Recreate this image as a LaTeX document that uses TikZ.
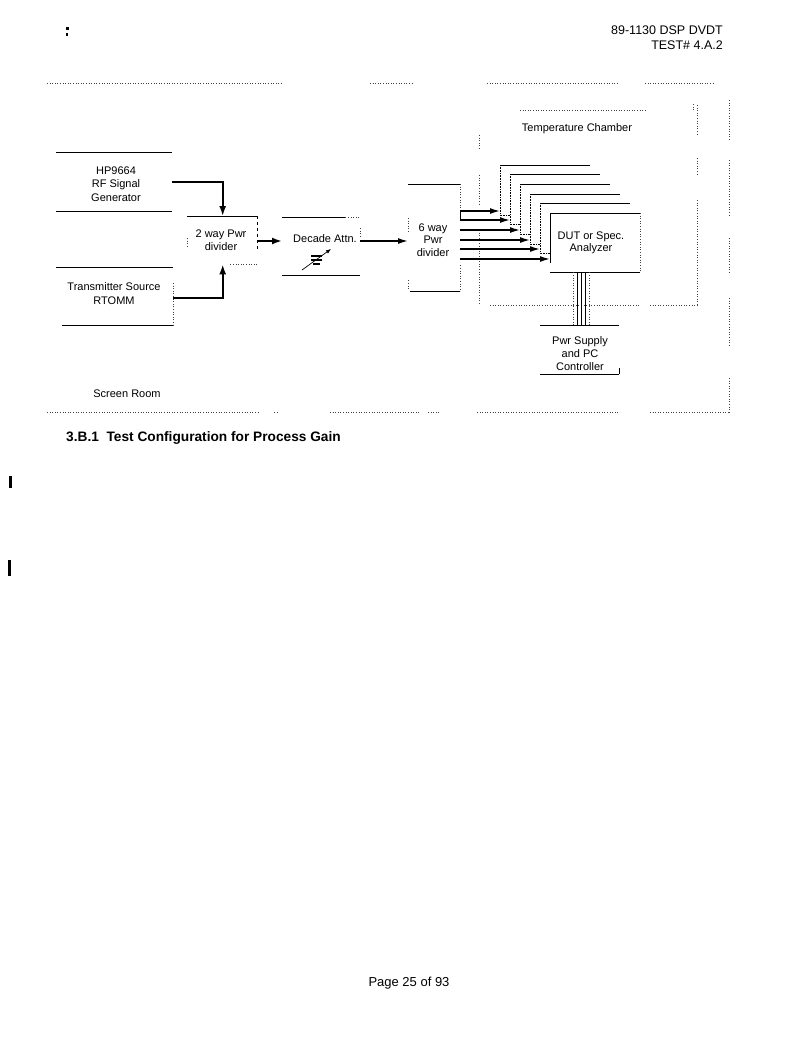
\documentclass[tikz,border=0pt]{standalone}
\usepackage{fontspec}
\setmainfont{Liberation Sans}
\usetikzlibrary{arrows.meta}
\begin{document}
\begin{tikzpicture}[x=1pt,y=-1pt,
  lbl/.style={font=\fontsize{11}{13.5}\selectfont, align=center, inner sep=0pt},
  boxnode/.style={draw=none, inner sep=0pt, anchor=north west},
  edge/.style={line width=0.8pt},
  dots/.style={line width=0.6pt, dotted, black!75},
  conn/.style={line width=1.8pt, -{Latex[length=10pt,width=7pt]}},
  sconn/.style={line width=1.5pt, -{Latex[length=10pt,width=6pt]}}]
\useasboundingbox (0,0) rectangle (808,1047);
\fill[white] (0,0) rectangle (808,1047);

% header / footer
\node[font=\fontsize{12.5}{15}\selectfont, anchor=east, inner sep=0pt] (hdr1) at (723,30) {89-1130 DSP DVDT};
\node[font=\fontsize{12.5}{15}\selectfont, anchor=east, inner sep=0pt] (hdr2) at (723,45) {TEST\# 4.A.2};
\node[font=\fontsize{13}{15}\selectfont, inner sep=0pt] (footer) at (409,983) {Page 25 of 93};
\node[font=\bfseries\fontsize{13.7}{16}\selectfont, anchor=west, inner sep=0pt] (heading) at (66,438) {3.B.1\ \ Test Configuration for Process Gain};

% scan marks
\fill (66,27) rectangle (68.5,30);
\fill (66,33) rectangle (67.5,36);
\fill (9,476) rectangle (11.5,488);
\fill (8,560) rectangle (11,576);

% screen room
\draw[dots] (47,83) -- (283,83) (370,83) -- (413,83) (487,83) -- (618,83) (645,83) -- (715,83);
\draw[dots] (729,100) -- (729,140) (729,160) -- (729,215) (729,238) -- (729,272) (729,298) -- (729,345) (729,378) -- (729,412);
\draw[dots] (47,412) -- (258,412) (274,412) -- (278,412) (330,412) -- (420,412) (428,412) -- (440,412) (477,412) -- (620,412) (650,412) -- (729,412);
\node[lbl] (screen) at (127,394) {Screen Room};

% temperature chamber
\draw[dots] (520,110) -- (645,110) (693,104) -- (693,110);
\draw[dots] (697,105) -- (697,135) (697,158) -- (697,175) (697,200) -- (697,305);
\draw[dots] (490,305) -- (640,305) (650,305) -- (697,305);
\draw[dots] (479,135) -- (479,150) (479,175) -- (479,205) (479,230) -- (479,303);
\node[lbl] (tempch) at (577,129) {Temperature Chamber};

% box nodes (invisible frames)
\node[boxnode, minimum width=116pt, minimum height=59pt] (hp) at (56,152) {};
\node[boxnode, minimum width=117pt, minimum height=58pt] (tx) at (56,267) {};
\node[boxnode, minimum width=71pt, minimum height=48pt] (two) at (187,216) {};
\node[boxnode, minimum width=78pt, minimum height=58pt] (dec) at (282,217) {};
\node[boxnode, minimum width=52pt, minimum height=107pt] (six) at (408,184) {};
\node[boxnode, minimum width=90pt, minimum height=59pt] (b1) at (500,165) {};
\node[boxnode, minimum width=90pt, minimum height=59pt] (b2) at (510,174) {};
\node[boxnode, minimum width=90pt, minimum height=59pt] (b3) at (520,184) {};
\node[boxnode, minimum width=90pt, minimum height=59pt] (b4) at (530,194) {};
\node[boxnode, minimum width=90pt, minimum height=59pt] (b5) at (540,203) {};
\node[boxnode, minimum width=90pt, minimum height=59pt] (dut) at (550,213) {};
\node[boxnode, minimum width=79pt, minimum height=49pt] (pwr) at (540,325) {};

% texts
\node[lbl] (hpT) at (116,184) {HP9664\\RF Signal\\Generator};
\node[lbl] (txT) at (114,293.5) {Transmitter Source\\RTOMM};
\node[lbl] (twoT) at (221,240) {2 way Pwr\\divider};
\node[lbl] (decT) at (325,239) {Decade Attn.};
\node[lbl, font=\fontsize{11}{12.5}\selectfont] (sixT) at (433,240) {6 way\\Pwr\\divider};
\node[lbl, font=\fontsize{11}{12.5}\selectfont] (dutT) at (591,243) {DUT or Spec.\\Analyzer};
\node[lbl, font=\fontsize{11}{13}\selectfont] (pwrT) at (580,353.5) {Pwr Supply\\and PC\\Controller};

% visible box edges (yshift < 0 moves down)
\draw[edge] (hp.north west) -- (hp.north east) (hp.south west) -- (hp.south east);
\draw[edge] (tx.north west) -- (tx.north east) ([xshift=6pt]tx.south west) -- (tx.south east);
\draw[dots] ([yshift=-16pt]tx.north east) -- (tx.south east);
\draw[edge] (two.north west) -- (two.north east);
\draw[edge, dashed, line width=0.7pt] ([xshift=-1pt]two.north east) -- ([xshift=-1pt,yshift=-34pt]two.north east);
\draw[dots] ([xshift=-28pt]two.south east) -- (two.south east) ([yshift=-22pt]two.north west) -- ([yshift=-32pt]two.north west);
\draw[edge] (dec.north west) -- ([xshift=-15pt]dec.north east) (dec.south west) -- (dec.south east);
\draw[dots] ([xshift=-15pt]dec.north east) -- (dec.north east) ([yshift=-11pt]dec.north east) -- ([yshift=-21pt]dec.north east);
\draw[edge] (six.north west) -- (six.north east) ([xshift=2pt]six.south west) -- (six.south east);
\draw[dots] (six.north east) -- ([yshift=-26pt]six.north east) ([yshift=26pt]six.south east) -- (six.south east);
\draw[dots] ([yshift=-34pt]six.north west) -- ([yshift=-48pt]six.north west) ([yshift=11pt]six.south west) -- ([yshift=1pt]six.south west);
\draw[edge] ([yshift=-27pt]six.north east) -- ([yshift=-36pt]six.north east);

% variable attenuator symbol
\coordinate (attA) at (302,270);
\coordinate (attB) at (331,249);
\draw[line width=0.7pt, -{Latex[length=5pt,width=4pt]}] (attA) -- (attB);
\draw[line width=1.1pt] (311,256) -- (322,256) (311,260) -- (322,260) (313,264) -- (320,264);

% stacked DUT boxes
\foreach \b/\nb/\ay in {b1/b2/211, b2/b3/220, b3/b4/230, b4/b5/240, b5/dut/249} {
  \coordinate (\b bot) at (0,\ay+4);
  \draw[edge] (\b.north west) -- (\b.north east);
  \draw[line width=0.6pt, densely dotted] (\b.north west) -- (\b.north west |- \b bot) -- (\nb.north west |- \b bot);
}
\draw[edge] (dut.north west) -- (dut.north east) (dut.south west) -- (dut.south east);
\draw[edge] (dut.north west) -- ([yshift=-50pt]dut.north west);
\draw[dots] (dut.north east) -- (dut.south east);

% connectors
\draw[conn] (hp.east) -- (hp.east -| two.north) -- (two.north);
\coordinate (ty) at (0,298);
\draw[conn] (tx.east |- ty) -- (two.south |- ty) -- (two.south);
\coordinate (ly) at (0,241);
\draw[conn] (two.east |- ly) -- (dec.west |- ly);
\draw[sconn] (dec.east |- ly) -- (six.west |- ly);
\foreach \b/\ay in {b1/211, b2/220, b3/230, b4/240, b5/249, dut/259} {
  \coordinate (\b y) at (0,\ay);
  \draw[sconn] (six.east |- \b y) -- (\b.west |- \b y);
}

% cables DUT -> power supply
\foreach \xx in {577,581,585} {
  \coordinate (c\xx) at (\xx,0);
  \draw[line width=0.7pt] (dut.south -| c\xx) -- (pwr.north -| c\xx);
}
\foreach \xx in {573,589} {
  \coordinate (d\xx) at (\xx,0);
  \draw[dots] (dut.south -| d\xx) -- (pwr.north -| d\xx);
}
\draw[edge] (pwr.north west) -- (pwr.north east) (pwr.south west) -- (pwr.south east);
\draw[edge] ([yshift=6pt]pwr.south east) -- (pwr.south east);
\end{tikzpicture}
\end{document}
